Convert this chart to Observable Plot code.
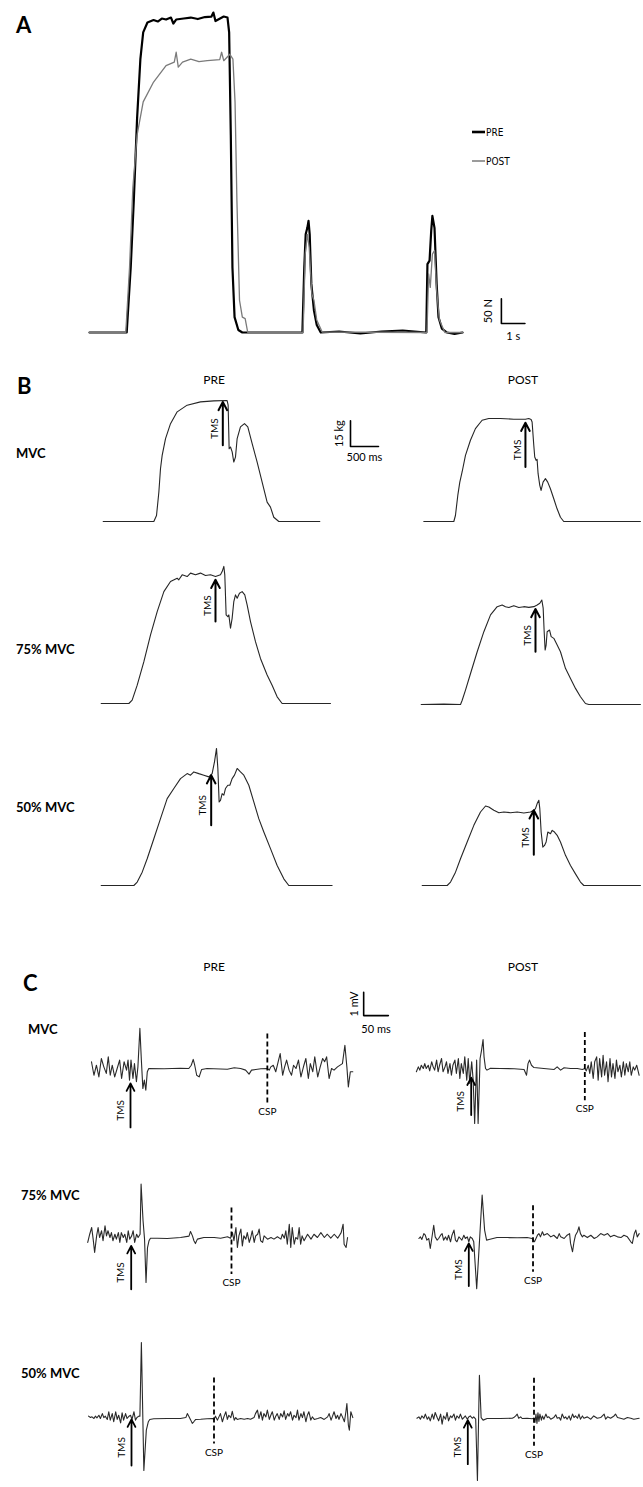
<!DOCTYPE html>
<html><head><meta charset="utf-8">
<script src="https://cdn.jsdelivr.net/npm/d3@7"></script>
<script src="https://cdn.jsdelivr.net/npm/@observablehq/plot@0.6"></script>
<style>
body{margin:0;background:#fff}
#fig{position:relative;width:643px;height:1487px;overflow:hidden;background:#fff}
</style>
</head><body><div id="fig"></div>
<script>
// ---------------- DATA ----------------
// Panel A: force (N) vs time (s)
const aPre = [[0,0],[1.58,0],[1.75,131],[1.88,265],[2.02,431],[2.16,551],[2.28,605],[2.46,625],[2.72,630],[2.9,627],[3.07,633],[3.25,631],[3.46,635],[3.56,623],[3.68,631],[4.0,633],[4.30,635],[4.6,632],[4.9,636],[5.18,637],[5.26,645],[5.35,628],[5.70,637],[5.86,635],[5.93,605],[6.00,398],[6.07,131],[6.16,31],[6.32,5],[6.49,0],[9.04,0],[9.12,131],[9.18,198],[9.25,211],[9.30,225],[9.35,198],[9.42,98],[9.53,45],[9.65,15],[9.82,0],[10.6,2],[11.5,-2],[12.4,2],[13.3,4],[14.30,0],[14.35,138],[14.44,145],[14.51,205],[14.56,235],[14.65,211],[14.74,98],[14.82,31],[14.96,8],[15.18,0],[15.5,-3],[15.84,0]];
const aPost = [[0,0],[1.54,0],[1.70,131],[1.84,291],[2.02,398],[2.28,465],[2.72,505],[3.25,538],[3.60,545],[3.68,565],[3.77,535],[3.95,545],[4.30,551],[4.65,546],[5.00,548],[5.53,550],[5.61,565],[5.70,548],[5.96,561],[6.09,551],[6.18,465],[6.26,265],[6.37,65],[6.49,31],[6.61,28],[6.72,0],[9.07,0],[9.16,158],[9.25,198],[9.33,171],[9.44,78],[9.53,65],[9.65,25],[9.88,1],[14.33,0],[14.40,118],[14.47,91],[14.56,158],[14.65,165],[14.74,85],[14.86,25],[15.09,0],[15.84,0]];

// Panel B: force (kg) vs time (ms)
const bPreMvc = [[0,0],[369,0],[904,0],[952,3.5],[994,17.2],[1023,30.8],[1053,38.6],[1113,48.4],[1202,57.1],[1321,64],[1499,67.9],[1737,69.8],[1975,70.4],[2213,70.6],[2231,67.9],[2249,42.5],[2273,43.5],[2303,40.6],[2332,34.7],[2362,37.6],[2392,48.4],[2451,55.2],[2523,57.1],[2582,55.2],[2660,45.4],[2749,34.7],[2838,23],[2927,11.3],[2987,8.4],[3046,2.5],[3136,0],[3868,0]];
const bPre75 = [[0,0],[494,0],[553,2],[643,10.7],[762,24.4],[881,40],[1000,53.6],[1119,65.3],[1238,71.2],[1357,73.1],[1386,72.2],[1446,75.1],[1535,74.1],[1595,76.1],[1684,75.1],[1773,76.1],[1862,74.7],[1952,75.1],[2041,74.1],[2130,75.1],[2160,77],[2190,80],[2207,75.1],[2231,51.7],[2261,50.7],[2279,51.7],[2309,43.9],[2338,49.7],[2368,59.5],[2398,63.4],[2428,61.4],[2469,64.4],[2517,65.3],[2564,63.4],[2606,57.5],[2666,47.8],[2755,36.1],[2844,26.3],[2963,16.6],[3052,10.7],[3142,3.9],[3231,0],[4094,0]];
const bPre50 = [[0,0],[583,0],[643,2],[732,7.8],[821,15.6],[940,27.3],[1059,39],[1178,50.7],[1297,56.6],[1416,62.4],[1535,65.3],[1595,64.4],[1654,66.3],[1743,65.3],[1833,64.4],[1922,63.4],[1981,65.3],[2023,72.2],[2059,80],[2083,68.3],[2106,48.8],[2130,49.7],[2160,53.6],[2190,52.7],[2219,56.6],[2261,58.5],[2297,58.5],[2338,62.4],[2380,64.4],[2428,68.3],[2487,66.3],[2547,64.4],[2636,58.5],[2725,48.8],[2814,39],[2904,31.2],[3023,21.5],[3142,11.7],[3261,3.9],[3350,0],[4123,0]];
const bPostMvc = [[0,0],[536,0],[565,3.5],[607,15.2],[643,23],[684,28.9],[744,38.6],[833,47.4],[922,54.2],[1041,59.1],[1160,60.1],[1369,60.1],[1607,59.7],[1815,59.7],[1874,60.1],[1916,59.5],[1934,58.1],[1964,44.5],[1981,37.6],[2005,35.7],[2023,36.3],[2041,27.9],[2071,21.1],[2094,18.1],[2130,23],[2172,25],[2213,23],[2261,19.1],[2321,13.3],[2380,7.4],[2440,2.5],[2499,0],[3868,0]];
const bPost75 = [[0,0],[405,0.2],[702,0],[732,2.5],[791,8.4],[881,18.1],[1000,30.8],[1119,42.5],[1238,52.3],[1357,57.1],[1446,58.1],[1505,57.1],[1565,56.6],[1654,57.7],[1743,56.6],[1833,57.1],[1922,56.7],[2011,57.1],[2071,58.1],[2118,59.1],[2154,61],[2178,56.2],[2196,42.5],[2213,31.8],[2231,34.7],[2249,42.5],[2291,43.5],[2321,39.6],[2368,38.6],[2428,34.7],[2487,30.8],[2576,21.1],[2666,15.2],[2755,9.4],[2844,4.5],[2933,0.6],[2993,0],[3915,0]];
const bPost50 = [[0,0],[446,0],[506,2],[595,7.8],[684,15.6],[803,25.4],[922,35.1],[1041,42.9],[1131,46.4],[1190,45.8],[1279,43.9],[1369,42.5],[1458,42.9],[1577,42.5],[1696,42.9],[1815,42.3],[1934,42.9],[1993,43.9],[2023,44.9],[2053,47.8],[2083,49.7],[2100,44.9],[2124,31.2],[2154,22.4],[2184,23.4],[2213,25.4],[2243,31.2],[2291,30.2],[2321,32.2],[2362,31.2],[2410,29.3],[2469,25.4],[2559,17.6],[2648,11.7],[2737,6.8],[2826,2],[2886,0],[3897,0]];
// TMS stimulus time (ms) and arrow span (kg) for panel B
const bTms = {
  preMvc:{t:2136,from:44.5,to:69.8}, pre75:{t:2041,from:47.8,to:72.2}, pre50:{t:1964,from:35.1,to:64.4},
  postMvc:{t:1815,from:31.8,to:57.7}, post75:{t:2041,from:30.8,to:55.8}, post50:{t:1993,from:17.9,to:43.9}
};

// Panel C: EMG (mV) vs time from TMS (ms)
const cPreMvc = [[-79,0.29],[-74,-0.29],[-69,0.14],[-64,-0.36],[-59,0.43],[-54,0.07],[-49,-0.21],[-45,0.5],[-41,-0.29],[-37,0.14],[-32,-0.36],[-27,0],[-22,0.36],[-18,-0.43],[-13,0.29],[-8,-0.07],[-5,0.36],[-2,-0.5],[1,0.36],[5,-0.43],[8,0.21],[12,-0.57],[15,0.07],[19,1.72],[22,0.36],[25,-0.86],[28,-0.5],[31,-0.93],[34,-0.14],[37,0],[68,-0.01],[101,0.01],[118,0],[123,0.14],[127,0.39],[130,0.14],[134,-0.29],[139,-0.36],[144,-0.04],[155,0],[196,-0.03],[210,0.03],[223,0],[233,-0.07],[240,-0.24],[245,-0.07],[264,-0.01],[277,0],[281,-0.07],[284,0.07],[289,0.14],[294,-0.14],[299,0.29],[303,0.64],[308,-0.29],[312,0.07],[316,0.36],[321,-0.07],[326,-0.29],[330,0.14],[335,0],[340,0.36],[345,-0.36],[351,0.14],[355,0.43],[360,-0.43],[364,0.21],[369,-0.14],[373,0.5],[379,-0.36],[384,0.07],[389,0.43],[393,0.29],[397,0.5],[402,-0.43],[407,0],[412,-0.07],[419,0.07],[429,0.21],[434,1.0],[438,0.07],[441,-0.79],[445,-0.14],[450,-0.14]];
const cPostMvc = [[-111,-0.14],[-107,0.07],[-104,-0.07],[-101,0.14],[-97,0],[-94,0.21],[-91,0],[-87,0.14],[-84,-0.1],[-80,0.29],[-77,0.07],[-74,-0.07],[-70,0.36],[-67,-0.14],[-64,0.14],[-60,0.43],[-57,-0.14],[-53,0.07],[-50,0.29],[-47,-0.21],[-43,0.21],[-40,-0.29],[-37,0.14],[-33,0.36],[-30,-0.21],[-26,0.43],[-23,-0.43],[-20,0.21],[-16,-0.21],[-13,0.5],[-9,-0.5],[-6,0.43],[-3,-0.64],[1,0.29],[4,-0.5],[7,-2.36],[11,0.36],[14,-2.36],[18,0.43],[21,0.79],[24,1.24],[26,0.5],[29,0],[32,-0.07],[39,0.01],[59,0],[87,-0.01],[107,-0.04],[112,-0.29],[115,0.21],[118,0.36],[122,0.14],[127,0.04],[147,0],[168,-0.04],[174,0.07],[181,-0.07],[188,0.03],[201,0],[215,0],[225,-0.04],[230,0],[233,-0.1],[237,0.14],[240,-0.21],[243,0.29],[247,-0.43],[250,0.29],[254,0.5],[257,-0.5],[260,0.43],[264,-0.36],[267,0.57],[270,-0.29],[274,0.29],[277,-0.57],[281,0.43],[284,-0.36],[287,0.21],[291,-0.43],[294,0.36],[297,-0.14],[301,0.14],[304,-0.36],[308,0.29],[311,-0.29],[314,0.21],[318,-0.14],[321,0.29],[324,-0.29],[328,0.07],[331,-0.07],[335,0.14],[340,-0.29]];
const cPre75 = [[-88,-0.21],[-84,0.14],[-80,0.43],[-77,-0.07],[-74,-0.64],[-70,0.07],[-67,0.43],[-64,0],[-60,0.29],[-57,-0.14],[-53,0.5],[-50,0.07],[-47,0.29],[-43,0],[-40,0.21],[-37,-0.14],[-33,0.14],[-30,-0.07],[-26,0.21],[-23,-0.21],[-20,0.21],[-16,0],[-13,0.14],[-9,-0.21],[-6,0.29],[-3,-0.07],[1,0.07],[4,0.29],[7,-0.21],[11,0.14],[14,0],[18,0.14],[20,2.29],[24,0.72],[27,-0.07],[30,-1.93],[33,-0.43],[36,-0.14],[39,-0.03],[53,-0.03],[73,-0.04],[100,0],[117,0.06],[120,0.26],[124,0.07],[127,-0.14],[130,-0.26],[134,-0.07],[147,0],[168,0],[181,-0.03],[195,0.03],[201,-0.03],[205,0.21],[208,-0.14],[212,0.43],[215,-0.43],[218,0.07],[222,0.36],[225,-0.36],[228,0.07],[232,-0.07],[235,0.21],[239,-0.21],[242,0],[245,0.29],[249,-0.21],[252,0.07],[256,0.14],[259,0.36],[262,-0.14],[266,-0.21],[269,0.07],[276,-0.07],[283,0],[289,-0.07],[296,0.03],[303,-0.07],[306,0.14],[310,-0.03],[313,0.29],[316,-0.29],[320,0.57],[323,-0.43],[326,0.43],[330,-0.29],[333,0],[337,-0.07],[340,0.43],[343,-0.29],[346,0.07],[350,-0.14],[357,0.14],[364,-0.07],[370,0.14],[377,0],[384,0.21],[391,0],[397,0.14],[404,-0.03],[411,0.14],[418,-0.03],[425,0.21],[429,0.57],[431,-0.29],[435,-0.43],[438,0]];
const cPost75 = [[-101,0],[-98,0.07],[-95,-0.04],[-91,0.21],[-88,0.14],[-85,-0.07],[-81,0],[-78,-0.43],[-74,0.14],[-71,0.57],[-68,0.07],[-64,-0.07],[-61,0],[-57,0.14],[-54,0.21],[-51,-0.07],[-47,0.07],[-44,-0.07],[-41,0.14],[-37,-0.14],[-34,0.14],[-30,0.36],[-27,-0.07],[-24,-0.14],[-20,0.07],[-17,0],[-14,-0.07],[-10,0.14],[-7,0],[-3,0.07],[0,-0.14],[3,0.07],[7,0],[10,-0.14],[16,-2.15],[19,-1.07],[27,1.86],[32,0.36],[36,-0.07],[41,-0.04],[57,0.04],[78,0.04],[98,0.03],[118,0.04],[128,0],[133,-0.14],[139,0.14],[142,0.21],[145,0.07],[149,0.29],[152,0.14],[159,0.21],[166,0.07],[172,0.14],[179,0],[183,0.21],[186,0.07],[193,0],[199,0.14],[204,0.21],[206,-0.21],[210,-0.57],[213,-0.14],[216,0.14],[220,0.29],[223,0.5],[226,0.21],[230,0.07],[233,0.14],[240,0.04],[247,0.14],[254,0],[260,0.07],[267,0.21],[274,0.14],[281,0.21],[287,0.07],[294,0.14],[301,0.07],[308,0.04],[314,0.14],[321,0.07],[328,-0.14],[331,-0.21],[335,0.21],[338,0.36],[341,0.07],[345,0.21]];
const cPre50 = [[-87,0.1],[-83,0.04],[-80,0.07],[-76,0],[-73,0.1],[-70,0.03],[-66,0.14],[-63,0],[-59,0.21],[-56,0.04],[-53,0.1],[-49,-0.04],[-46,0.29],[-43,-0.07],[-39,0.21],[-36,-0.14],[-32,0.29],[-29,-0.04],[-26,0.14],[-22,-0.19],[-19,0.24],[-16,-0.07],[-12,0.21],[-9,0],[-5,0.1],[-2,0.14],[1,-0.04],[5,0.29],[8,-0.07],[11,0.04],[15,0.1],[17,0.1],[20,3.26],[25,-2.23],[30,-0.5],[34,-0.14],[37,-0.04],[45,-0.01],[72,0],[99,0],[110,0.04],[113,0.21],[116,0.1],[120,-0.07],[123,-0.21],[126,-0.14],[130,-0.04],[140,-0.03],[153,-0.01],[164,0],[167,-0.04],[170,0.1],[174,-0.07],[177,0.07],[180,0.21],[184,-0.14],[187,0.07],[191,0.29],[194,-0.04],[197,0.14],[201,0.04],[204,0.31],[208,-0.07],[211,0.04],[214,-0.04],[221,0],[228,-0.03],[235,0],[241,-0.03],[248,0.04],[251,0.21],[255,0.36],[258,0],[262,0.29],[265,-0.07],[268,0.21],[272,0.07],[275,0.36],[279,-0.04],[282,0.14],[285,0.29],[289,-0.07],[292,0.1],[295,0.21],[299,-0.04],[302,0.21],[306,0.07],[309,0.33],[312,-0.04],[316,0.21],[319,0.1],[322,0.29],[326,-0.07],[329,0.14],[333,0.04],[336,0.36],[339,-0.07],[343,0.21],[346,0.04],[349,0.29],[353,-0.14],[356,0.14],[359,0.29],[363,-0.07],[366,0.07],[370,-0.04],[377,0],[383,0.04],[390,-0.04],[397,0.07],[400,0.21],[404,-0.07],[407,0.1],[410,0.29],[414,0],[417,0.14],[420,-0.04],[424,0.21],[427,0.07],[431,-0.14],[434,0.29],[436,0.64],[439,-0.29],[441,-0.5],[444,0.29],[448,0.04]];
const cPost50 = [[-103,0.01],[-99,0.07],[-96,-0.03],[-93,0.11],[-89,0.01],[-86,0.19],[-82,-0.03],[-79,0.07],[-76,-0.1],[-72,0.19],[-69,-0.03],[-66,0.26],[-62,0.04],[-59,-0.1],[-55,0.19],[-52,-0.24],[-49,0.11],[-45,-0.03],[-42,0.26],[-39,-0.1],[-35,0.11],[-32,0.04],[-28,0.19],[-25,-0.07],[-22,0.11],[-18,0.01],[-15,0.19],[-11,-0.03],[-8,0.04],[-5,0.11],[-1,-0.03],[2,0.07],[5,0.11],[9,0.01],[12,0.07],[16,-0.03],[19.5,-2.66],[23.5,1.85],[27,0.04],[31,-0.07],[39,0],[66,0],[90,0.01],[93,0.04],[97,0.11],[100,0.19],[103,0.01],[107,0.07],[110,0],[120,0.01],[130,-0.01],[134,0.01],[136,-0.17],[138,0.19],[140,-0.21],[142,0.24],[144,-0.13],[146,0.19],[149,-0.07],[151,0.11],[154,-0.03],[158,0.19],[161,0.04],[164,0.07],[168,-0.03],[174,0.04],[178,0.16],[181,0.01],[185,0.04],[188,-0.07],[191,0.19],[195,0.01],[198,0.07],[201,-0.03],[205,0.11],[208,-0.07],[212,0.19],[215,0.04],[218,0.11],[222,0.01],[225,0.19],[228,-0.03],[232,0.11],[235,0.01],[242,0.07],[249,-0.03],[255,0.11],[262,0.01],[269,0.04],[276,0.19],[279,-0.03],[283,0.07],[289,0.01],[296,0.11],[299,0.19],[303,0.04],[309,0.01],[316,-0.03],[323,0.04],[330,0.01],[336,-0.03],[347,0.01]];
// TMS arrow span (mV) and cortical silent period end (ms) with dashed line span (mV)
const cTms = {
  preMvc:{from:-2.53,to:-0.64}, postMvc:{from:-2.0,to:-0.39},
  pre75:{from:-2.22,to:-0.36}, post75:{from:-2.04,to:-0.21},
  pre50:{from:-2.02,to:-0.04}, post50:{from:-1.96,to:-0.07}
};
const cCsp = {
  preMvc:{t:277,top:1.5,bottom:-1.46}, postMvc:{t:230,top:1.57,bottom:-1.36},
  pre75:{t:203,top:1.29,bottom:-1.57}, post75:{t:130,top:1.43,bottom:-1.43},
  pre50:{t:167,top:1.76,bottom:-1.07}, post50:{t:134,top:1.75,bottom:-1.17}
};

// ---------------- LAYOUT / DRAW ----------------
const FONT = "Lato, 'Open Sans', sans-serif";
const fig = document.getElementById("fig");

function panel({left, top, width, height, ox, oy, kx, ky, marks}) {
  const svg = Plot.plot({
    width, height, margin: 0,
    x: {domain: [(left - ox) / kx, (left + width - ox) / kx], axis: null},
    y: {domain: [(oy - top - height) / ky, (oy - top) / ky], axis: null},
    style: {overflow: "visible", background: "transparent", position: "absolute",
            left: left + "px", top: top + "px", maxWidth: "none", fontFamily: FONT},
    marks
  });
  fig.appendChild(svg);
}

// Panel A
const kxA = 23.55, kyA = 0.496;
const barA = {t: 17.49, f: 18, dt: 1, df: 50};
panel({left: 60, top: 0, width: 540, height: 360, ox: 89, oy: 332, kx: kxA, ky: kyA, marks: [
  Plot.line(aPre, {stroke: "#000", strokeWidth: 2.2}),
  Plot.line(aPost, {stroke: "#7a7a7a", strokeWidth: 1.3}),
  Plot.line([[barA.t, barA.f + barA.df], [barA.t, barA.f], [barA.t + barA.dt, barA.f]], {stroke: "#000", strokeWidth: 1.6}),
  Plot.text(["50 N"], {x: barA.t, y: barA.f + barA.df / 2, text: d => d, rotate: -90, dx: -13, fontSize: 11, fontFamily: FONT}),
  Plot.text(["1 s"], {x: barA.t + barA.dt / 2, y: barA.f, text: d => d, dy: 13, fontSize: 11, fontFamily: FONT})
]});

// Panel B
const kxB = 28 / 500, kyB = 25.7 / 15;
const barB = {t: 4416, kg: 43.8, dt: 500, dkg: 15};
function bMarks(trace, tms) {
  return [
    Plot.line(trace, {stroke: "#262626", strokeWidth: 1.1}),
    Plot.arrow([tms], {x1: d => d.t, x2: d => d.t, y1: d => d.from, y2: d => d.to, stroke: "#000", strokeWidth: 2, headLength: 7, headAngle: 55}),
    Plot.text([tms], {x: d => d.t, y: d => (d.from + d.to) / 2, text: () => "TMS", rotate: -90, dx: -8, dy: 5, fontSize: 10, fontFamily: FONT})
  ];
}
const bPanels = [
  {trace: bPreMvc, tms: bTms.preMvc, ox: 102.7, oy: 521, left: 80, extra: [
    Plot.line([[barB.t, barB.kg + barB.dkg], [barB.t, barB.kg], [barB.t + barB.dt, barB.kg]], {stroke: "#000", strokeWidth: 1.6}),
    Plot.text(["15 kg"], {x: barB.t, y: barB.kg + barB.dkg / 2, text: d => d, rotate: -90, dx: -11, fontSize: 11, fontFamily: FONT}),
    Plot.text(["500 ms"], {x: barB.t + barB.dt / 2, y: barB.kg, text: d => d, dy: 11, fontSize: 11, fontFamily: FONT})
  ]},
  {trace: bPre75, tms: bTms.pre75, ox: 100.7, oy: 703.3, left: 80},
  {trace: bPre50, tms: bTms.pre50, ox: 100.7, oy: 885, left: 80},
  {trace: bPostMvc, tms: bTms.postMvc, ox: 423.3, oy: 521, left: 400},
  {trace: bPost75, tms: bTms.post75, ox: 420.7, oy: 704.3, left: 400},
  {trace: bPost50, tms: bTms.post50, ox: 421.7, oy: 885, left: 400}
];
for (const p of bPanels) {
  panel({left: p.left, top: p.oy - 140, width: 243, height: 150, ox: p.ox, oy: p.oy, kx: kxB, ky: kyB,
    marks: [...bMarks(p.trace, p.tms), ...(p.extra || [])]});
}

// Panel C
const kxC = 24.7 / 50, kyC = 23.3;
const barC = {t: 472, v: 2.27, dt: 50, dv: 1};
function cMarks(trace, tms, csp) {
  return [
    Plot.line(trace, {stroke: "#2a2a2a", strokeWidth: 1.1}),
    Plot.arrow([tms], {x1: 0, x2: 0, y1: d => d.from, y2: d => d.to, stroke: "#000", strokeWidth: 1.8, headLength: 7, headAngle: 55}),
    Plot.text([tms], {x: 0, y: d => (d.from + d.to) / 2, text: () => "TMS", rotate: -90, dx: -10, dy: 5, fontSize: 10, fontFamily: FONT}),
    Plot.link([csp], {x1: d => d.t, x2: d => d.t, y1: d => d.top, y2: d => d.bottom, stroke: "#000", strokeWidth: 1.8, strokeDasharray: "5,3"}),
    Plot.text([csp], {x: d => d.t, y: d => d.bottom, text: () => "CSP", dy: 9, fontSize: 10, fontFamily: FONT})
  ];
}
const cPanels = [
  {trace: cPreMvc, key: "preMvc", ox: 130, oy: 1068, left: 80, extra: [
    Plot.line([[barC.t, barC.v + barC.dv], [barC.t, barC.v], [barC.t + barC.dt, barC.v]], {stroke: "#000", strokeWidth: 1.6}),
    Plot.text(["1 mV"], {x: barC.t, y: barC.v + barC.dv / 2, text: d => d, rotate: -90, dx: -9, fontSize: 11, fontFamily: FONT}),
    Plot.text(["50 ms"], {x: barC.t + barC.dt / 2, y: barC.v, text: d => d, dy: 14, fontSize: 11, fontFamily: FONT})
  ]},
  {trace: cPostMvc, key: "postMvc", ox: 470.7, oy: 1068, left: 400},
  {trace: cPre75, key: "pre75", ox: 130.7, oy: 1236.7, left: 80},
  {trace: cPost75, key: "post75", ox: 468.3, oy: 1238.3, left: 400},
  {trace: cPre50, key: "pre50", ox: 131, oy: 1418.3, left: 80},
  {trace: cPost50, key: "post50", ox: 467.3, oy: 1417.7, left: 400}
];
for (const p of cPanels) {
  panel({left: p.left, top: p.oy - 80, width: 243, height: 140, ox: p.ox, oy: p.oy, kx: kxC, ky: kyC,
    marks: [...cMarks(p.trace, cTms[p.key], cCsp[p.key]), ...(p.extra || [])]});
}

// Static labels (panel letters, headers, row labels, legend)
const labels = [
  {text: "A", x: 16, y: 33, size: 22, weight: 700},
  {text: "B", x: 17, y: 394, size: 22, weight: 700},
  {text: "C", x: 23, y: 991, size: 22, weight: 700},
  {text: "PRE", x: 214, y: 384, size: 12, anchor: "middle"},
  {text: "POST", x: 523, y: 384, size: 12, anchor: "middle"},
  {text: "MVC", x: 16, y: 458, size: 13, weight: 700},
  {text: "75% MVC", x: 16, y: 654, size: 13, weight: 700},
  {text: "50% MVC", x: 16, y: 812, size: 13, weight: 700},
  {text: "PRE", x: 214, y: 971, size: 12, anchor: "middle"},
  {text: "POST", x: 523, y: 971, size: 12, anchor: "middle"},
  {text: "MVC", x: 28, y: 1034, size: 13, weight: 700},
  {text: "75% MVC", x: 21, y: 1200, size: 13, weight: 700},
  {text: "50% MVC", x: 21, y: 1378, size: 13, weight: 700},
  {text: "PRE", x: 486, y: 136, size: 10, family: "'Liberation Sans Narrow','DejaVu Sans Condensed',sans-serif"},
  {text: "POST", x: 486, y: 165, size: 10, family: "'Liberation Sans Narrow','DejaVu Sans Condensed',sans-serif"}
];
const legendLines = [
  {x1: 472, x2: 485, y: 132, stroke: "#000", width: 2.6},
  {x1: 472, x2: 485, y: 161, stroke: "#7a7a7a", width: 1.5}
];
const layer = d3.select(fig).append("svg")
  .attr("width", 643).attr("height", 1487)
  .style("position", "absolute").style("left", 0).style("top", 0);
layer.selectAll("text").data(labels).join("text")
  .attr("x", d => d.x).attr("y", d => d.y)
  .attr("font-size", d => d.size).attr("font-weight", d => d.weight || 400)
  .attr("font-family", d => d.family || FONT)
  .attr("text-anchor", d => d.anchor || "start")
  .attr("fill", "#000").text(d => d.text);
layer.selectAll("line").data(legendLines).join("line")
  .attr("x1", d => d.x1).attr("x2", d => d.x2).attr("y1", d => d.y).attr("y2", d => d.y)
  .attr("stroke", d => d.stroke).attr("stroke-width", d => d.width);
</script></body></html>
